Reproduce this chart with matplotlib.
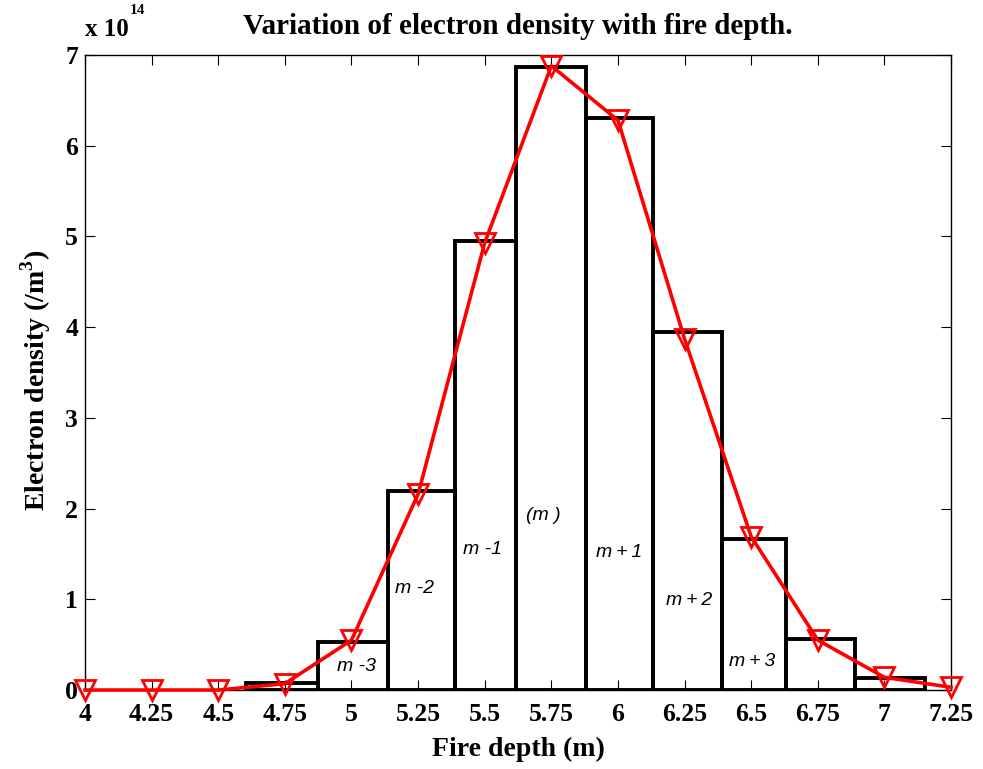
import matplotlib.pyplot as plt
import numpy as np

# Histogram-style bars (bin edges and heights, x 1e14 /m^3)
bin_edges = [4.604, 4.874, 5.137, 5.388, 5.617, 5.880, 6.131, 6.390, 6.630, 6.889, 7.152]
bin_heights = [0.08, 0.53, 2.19, 4.95, 6.87, 6.30, 3.95, 1.67, 0.56, 0.13]

# Measured electron density along the fire depth
depth = [4.0, 4.25, 4.5, 4.75, 5.0, 5.25, 5.5, 5.75, 6.0, 6.25, 6.5, 6.75, 7.0, 7.25]
density = [0.0, 0.0, 0.0, 0.07, 0.55, 2.16, 4.93, 6.88, 6.28, 3.87, 1.69, 0.55, 0.14, 0.03]

# Bin labels and where they sit
bin_labels = ['m -3', 'm -2', 'm -1', '(m )', 'm\u2009+\u20091', 'm\u2009+\u20092', 'm\u2009+\u20093']
label_x = [5.017, 5.238, 5.493, 5.720, 6.004, 6.266, 6.503]
label_y = [0.254, 1.114, 1.544, 1.929, 1.521, 0.992, 0.309]

xticks = [4, 4.25, 4.5, 4.75, 5, 5.25, 5.5, 5.75, 6, 6.25, 6.5, 6.75, 7, 7.25]
xtick_labels = ['4', '4.25', '4.5', '4.75', '5', '5.25', '5.5', '5.75', '6',
                '6.25', '6.5', '6.75', '7', '7.25']

serif = 'Liberation Serif'
plt.rcParams['mathtext.fontset'] = 'custom'
plt.rcParams['mathtext.bf'] = 'Liberation Serif:bold'
plt.rcParams['mathtext.rm'] = 'Liberation Serif:bold'

fig = plt.figure(figsize=(9.83, 7.69), dpi=100)
ax = fig.add_axes([0.0865, 0.1027, 0.881, 0.8258])

# bars as open outlines
lefts = np.array(bin_edges[:-1])
widths = np.diff(bin_edges)
ax.bar(lefts, bin_heights, width=widths, align='edge', fill=False,
       edgecolor='black', linewidth=2.8, zorder=2)

# red curve with open down-triangles
ax.plot(depth, density, color='red', linewidth=2.6, marker='v', markersize=14,
        markerfacecolor='none', markeredgecolor='red', markeredgewidth=2,
        zorder=3, clip_on=False)

for lab, lx, ly in zip(bin_labels, label_x, label_y):
    ax.text(lx, ly, lab, style='italic', fontsize=14, family='Liberation Sans',
            ha='center', va='center')

ax.set_xlim(4, 7.25)
ax.set_ylim(0, 7)
ax.set_xticks(xticks)
ax.set_xticklabels(xtick_labels)
ax.set_yticks(range(8))
ax.tick_params(direction='in', length=7, width=0.8, top=True, right=True,
               labelsize=18.5, pad=5)
ax.tick_params(axis='x', pad=9)
for lbl in ax.get_xticklabels() + ax.get_yticklabels():
    lbl.set_family(serif)
    lbl.set_fontweight('bold')
for sp in ax.spines.values():
    sp.set_linewidth(1.0)

ax.set_xlabel('Fire depth (m)', family=serif, fontweight='bold', fontsize=20, labelpad=8)
ax.set_ylabel('Electron density (/m$^\\mathbf{3}$)', family=serif, fontweight='bold',
              fontsize=20)
ax.yaxis.set_label_coords(-0.037, 0.487)

ax.set_title('Variation of electron density with fire depth.', family=serif,
             fontweight='bold', fontsize=21, pad=15)
ax.text(0.0, 1.022, 'x 10', transform=ax.transAxes, family=serif,
        fontweight='bold', fontsize=18, ha='left', va='bottom')
ax.text(0.052, 1.06, '14', transform=ax.transAxes, family=serif,
        fontweight='bold', fontsize=11, ha='left', va='bottom')

fig.savefig('out.png', dpi=100)
